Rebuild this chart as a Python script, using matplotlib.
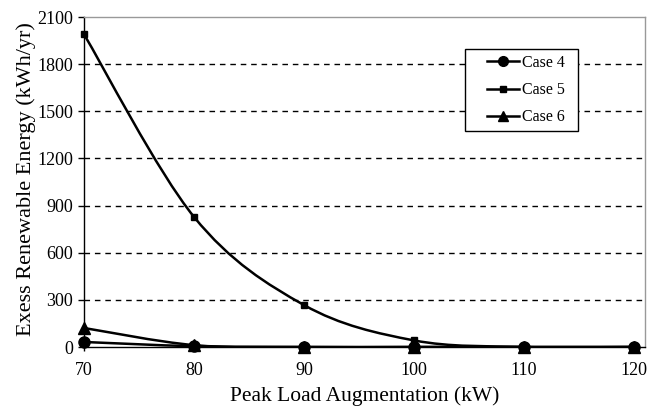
import numpy as np
import matplotlib
matplotlib.use('Agg')
import matplotlib.pyplot as plt
from matplotlib.path import Path
from matplotlib.patches import PathPatch, Rectangle
from matplotlib.lines import Line2D

plt.rcParams['font.family'] = ['Liberation Serif', 'DejaVu Serif']

load_kw = [70, 80, 90, 100, 110, 120]
case4 = [32, 5, 0, 0, 0, 0]
case5 = [1990, 828, 267, 42, 0, 0]
case6 = [121, 12, 0, 0, 0, 0]
series_names = ['Case 4', 'Case 5', 'Case 6']
y_ticks = [0, 300, 600, 900, 1200, 1500, 1800, 2100]
x_ticks = [70, 80, 90, 100, 110, 120]


def smooth_path(x, y):
    # spreadsheet-style smoothed line: cubic bezier through every point
    p = np.column_stack([x, y]).astype(float)
    verts = [p[0]]
    codes = [Path.MOVETO]
    n = len(p)
    for i in range(n - 1):
        p0 = p[i - 1] if i > 0 else p[i]
        p3 = p[i + 2] if i + 2 < n else p[i + 1]
        c1 = p[i] + (p[i + 1] - p0) / 6.0
        c2 = p[i + 1] - (p3 - p[i]) / 6.0
        verts += [c1, c2, p[i + 1]]
        codes += [Path.CURVE4] * 3
    return Path(verts, codes)


fig = plt.figure(figsize=(6.6, 4.12), dpi=100)
ax = fig.add_axes([84 / 660, 1 - 347 / 412, 561 / 660, 330 / 412])

markers = ['o', 's', '^']
msizes = [8, 5, 8]
handles = []
for vals, m, ms, name in zip([case4, case5, case6], markers, msizes, series_names):
    patch = PathPatch(smooth_path(load_kw, vals), facecolor='none',
                      edgecolor='black', lw=1.8, zorder=3)
    ax.add_patch(patch)
    ax.plot(load_kw, vals, linestyle='none', marker=m, ms=ms,
            color='black', zorder=4, clip_on=False)
    handles.append(Line2D([], [], color='black', lw=1.8, marker=m, ms=ms - 1,
                          label=name))

# plot area runs a little past the last category
ax.set_xlim(70, 121.0)
ax.set_ylim(0, 2100)
ax.set_xticks(x_ticks)
ax.set_yticks(y_ticks)
for yv in y_ticks[1:-1]:
    ax.axhline(yv, color='black', lw=1.0, dashes=(4, 3.5), zorder=1)

for s in ['top', 'right']:
    ax.spines[s].set_color('#999999')
    ax.spines[s].set_linewidth(1.0)
for s in ['left', 'bottom']:
    ax.spines[s].set_color('black')
    ax.spines[s].set_linewidth(1.0)

ax.tick_params(axis='y', length=4, width=1, labelsize=13, pad=4)
ax.tick_params(axis='x', length=3, width=1, labelsize=13, pad=8)

ax.set_xlabel('Peak Load Augmentation (kW)', fontsize=15.5)
ax.xaxis.set_label_coords(0.5, -0.12)
ax.set_ylabel('Exess Renewable Energy (kWh/yr)', fontsize=16)
ax.yaxis.set_label_coords(-0.086, 0.51)

# legend box drawn separately so its inner margins can be set freely
fig.patches.append(Rectangle((465 / 660, 1 - 131 / 412), 113 / 660, 82 / 412,
                             transform=fig.transFigure, facecolor='white',
                             edgecolor='black', lw=1.0, zorder=5))
leg = fig.legend(handles=handles, loc='upper left',
                 bbox_to_anchor=(487 / 660, 1 - 55 / 412), fontsize=11.5,
                 frameon=False, handlelength=2.0, labelspacing=0.7,
                 borderpad=0, handletextpad=0.2, borderaxespad=0)
leg.set_zorder(6)

fig.savefig('out.png', dpi=100, facecolor='white')
